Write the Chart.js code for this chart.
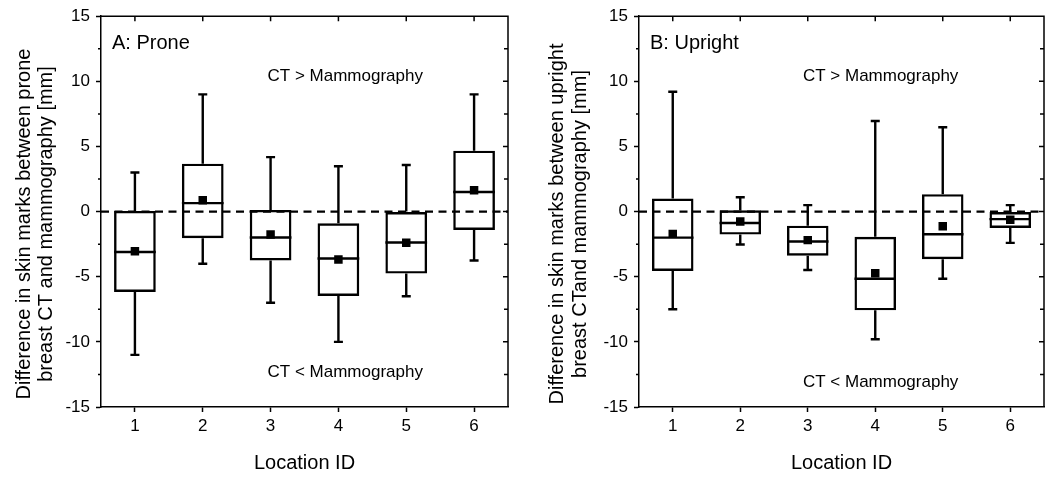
<!DOCTYPE html>
<html>
<head>
<meta charset="utf-8">
<script src="https://cdn.jsdelivr.net/npm/chart.js@4/dist/chart.umd.min.js"></script>
<style>
  body { margin: 0; background: #fff; }
  #wrap { display: flex; width: 1050px; height: 477px; }
  canvas { display: block; }
</style>
</head>
<body>
<div id="wrap">
  <canvas id="prone-chart" width="530" height="477"></canvas>
  <canvas id="upright-chart" width="520" height="477"></canvas>
</div>
<script>
// Location IDs on the x axis
const locationIds = ['1', '2', '3', '4', '5', '6'];

// Panel A: prone breast CT vs mammography (mm)
const proneMin    = [-11.0, -4.0, -7.0, -10.0, -6.5, -3.75];
const proneQ1     = [-6.17, -2.04, -3.75, -6.47, -4.76, -1.41];
const proneMedian = [-3.1, 0.65, -1.99, -3.6, -2.37, 1.51];
const proneQ3     = [0.05, 3.68, 0.13, -0.9, 0.0, 4.68];
const proneMax    = [3.0, 9.0, 4.18, 3.48, 3.58, 9.0];
const proneMean   = [-3.05, 0.88, -1.76, -3.68, -2.4, 1.64];

// Panel B: upright breast CT vs mammography (mm)
const uprightMin    = [-7.5, -2.52, -4.48, -9.8, -5.16, -2.4];
const uprightQ1     = [-4.56, -1.76, -3.38, -7.58, -3.65, -1.26];
const uprightMedian = [-2.0, -0.88, -2.29, -5.16, -1.74, -0.58];
const uprightQ3     = [1.0, 0.1, -1.08, -1.94, 1.34, 0.0];
const uprightMax    = [9.2, 1.1, 0.5, 6.95, 6.47, 0.5];
const uprightMean   = [-1.71, -0.76, -2.19, -4.74, -1.13, -0.63];

// Y axis range and tick step
const yMin = -15;
const yMax = 15;
const yMajorStep = 5;
const yMinorStep = 2.5;

const FONT = '"Liberation Sans", Arial, sans-serif';
Chart.defaults.font.family = FONT;
Chart.defaults.color = '#000';

/**
 * Plugin drawing the zero line, whiskers, medians, frame and annotations
 */
function boxOverlay(panel) {
  return {
    id: 'boxOverlay',
    beforeDatasetsDraw(chart) {
      const { ctx, chartArea: a, scales: { y } } = chart;
      const y0 = y.getPixelForValue(0);
      ctx.save();
      ctx.strokeStyle = '#000';
      ctx.lineWidth = 2.2;
      ctx.setLineDash([8, 5.5]);
      ctx.beginPath();
      ctx.moveTo(a.left, y0);
      ctx.lineTo(a.right, y0);
      ctx.stroke();
      ctx.restore();
    },
    afterDatasetsDraw(chart) {
      const { ctx, chartArea: a, scales: { x, y } } = chart;
      const bars = chart.getDatasetMeta(0).data;
      ctx.save();
      ctx.strokeStyle = '#000';
      ctx.lineWidth = 2.4;

      // whiskers, caps and medians
      bars.forEach((bar, i) => {
        const cx = bar.x;
        const half = bar.width / 2;
        const capHalf = 4.5;
        const pMax = y.getPixelForValue(panel.max[i]);
        const pMin = y.getPixelForValue(panel.min[i]);
        const pQ3 = y.getPixelForValue(panel.q3[i]);
        const pQ1 = y.getPixelForValue(panel.q1[i]);
        const pMed = y.getPixelForValue(panel.median[i]);
        ctx.beginPath();
        ctx.moveTo(cx, pQ3); ctx.lineTo(cx, pMax);
        ctx.moveTo(cx - capHalf, pMax); ctx.lineTo(cx + capHalf, pMax);
        ctx.moveTo(cx, pQ1); ctx.lineTo(cx, pMin);
        ctx.moveTo(cx - capHalf, pMin); ctx.lineTo(cx + capHalf, pMin);
        ctx.moveTo(cx - half, pMed); ctx.lineTo(cx + half, pMed);
        ctx.stroke();
      });

      // top and right frame with inward ticks
      ctx.lineWidth = 1.5;
      ctx.beginPath();
      ctx.moveTo(a.left, a.top); ctx.lineTo(a.right, a.top); ctx.lineTo(a.right, a.bottom);
      ctx.stroke();
      ctx.beginPath();
      locationIds.forEach((id, i) => {
        const px = x.getPixelForValue(i);
        ctx.moveTo(px, a.top); ctx.lineTo(px, a.top + 5);
      });
      for (let v = yMin + yMinorStep; v < yMax; v += yMinorStep) {
        const py = y.getPixelForValue(v);
        const major = v % yMajorStep === 0;
        ctx.moveTo(a.right, py); ctx.lineTo(a.right - (major ? 5 : 4), py);
        if (!major) {
          ctx.moveTo(a.left, py); ctx.lineTo(a.left - 3, py);
        }
      }
      ctx.stroke();

      // panel annotations
      ctx.fillStyle = '#000';
      ctx.textBaseline = 'middle';
      ctx.textAlign = 'left';
      ctx.font = '20px ' + FONT;
      ctx.fillText(panel.label, a.left + 11, a.top + 27);
      ctx.textAlign = 'center';
      ctx.font = '17px ' + FONT;
      const tx = x.getPixelForValue(panel.noteX);
      ctx.fillText('CT > Mammography', tx, y.getPixelForValue(panel.upperNoteY));
      ctx.fillText('CT < Mammography', tx, y.getPixelForValue(panel.lowerNoteY));

      // y axis title, two rotated lines
      ctx.font = '20px ' + FONT;
      panel.yTitle.forEach((line, i) => {
        ctx.save();
        ctx.translate(panel.titleX[i], panel.titleY);
        ctx.rotate(-Math.PI / 2);
        ctx.fillText(line, 0, 0);
        ctx.restore();
      });
      ctx.restore();
    }
  };
}

/**
 * Build one box plot panel
 */
function initBoxPanel(canvasId, panel) {
  const ctx = document.getElementById(canvasId);
  return new Chart(ctx, {
    type: 'bar',
    data: {
      labels: locationIds,
      datasets: [
        {
          type: 'bar',
          label: 'IQR',
          data: panel.q1.map((v, i) => [v, panel.q3[i]]),
          backgroundColor: 'rgba(0, 0, 0, 0)',
          borderColor: '#000',
          borderWidth: 2.4,
          borderSkipped: false,
          barPercentage: 0.615,
          categoryPercentage: 1,
          order: 1
        },
        {
          type: 'line',
          label: 'Mean',
          data: panel.mean,
          showLine: false,
          pointStyle: 'rect',
          pointRadius: 6,
          pointBackgroundColor: '#000',
          pointBorderWidth: 0,
          order: 0
        }
      ]
    },
    options: {
      responsive: false,
      animation: false,
      devicePixelRatio: 1,
      layout: {
        padding: { top: 11, right: panel.padRight, bottom: 0, left: 0 }
      },
      plugins: {
        legend: { display: false },
        tooltip: { enabled: false }
      },
      scales: {
        x: {
          grid: {
            offset: false,
            drawOnChartArea: false,
            tickLength: 5,
            tickWidth: 1.5,
            tickColor: '#000'
          },
          border: { color: '#000', width: 1.5 },
          ticks: { color: '#000', font: { size: 17 }, padding: 4 },
          title: {
            display: true,
            text: 'Location ID',
            color: '#000',
            font: { size: 20 },
            padding: { top: 0, bottom: 2 }
          },
          afterFit: scale => { scale.height = 70; }
        },
        y: {
          min: yMin,
          max: yMax,
          ticks: {
            stepSize: yMinorStep,
            color: '#000',
            font: { size: 17 },
            padding: 6,
            callback: v => (v % yMajorStep === 0 ? v : '')
          },
          grid: {
            drawOnChartArea: false,
            tickLength: 5,
            tickWidth: 1.5,
            tickColor: c => (c.tick && c.tick.value % yMajorStep === 0 ? '#000' : 'rgba(0, 0, 0, 0)')
          },
          border: { color: '#000', width: 1.5 },
          afterFit: scale => { scale.width = panel.axisWidth; }
        }
      }
    },
    plugins: [boxOverlay(panel)]
  });
}

initBoxPanel('prone-chart', {
  min: proneMin, q1: proneQ1, median: proneMedian, q3: proneQ3, max: proneMax, mean: proneMean,
  label: 'A: Prone',
  yTitle: ['Difference in skin marks between prone', 'breast CT and mammography [mm]'],
  titleX: [24, 46], titleY: 224,
  noteX: 3.1, upperNoteY: 10.35, lowerNoteY: -12.3,
  axisWidth: 101, padRight: 22
});

initBoxPanel('upright-chart', {
  min: uprightMin, q1: uprightQ1, median: uprightMedian, q3: uprightQ3, max: uprightMax, mean: uprightMean,
  label: 'B: Upright',
  yTitle: ['Difference in skin marks between upright', 'breast CTand mammography [mm]'],
  titleX: [27, 50], titleY: 224,
  noteX: 3.08, upperNoteY: 10.35, lowerNoteY: -13.1,
  axisWidth: 109, padRight: 3
});
</script>
</body>
</html>
